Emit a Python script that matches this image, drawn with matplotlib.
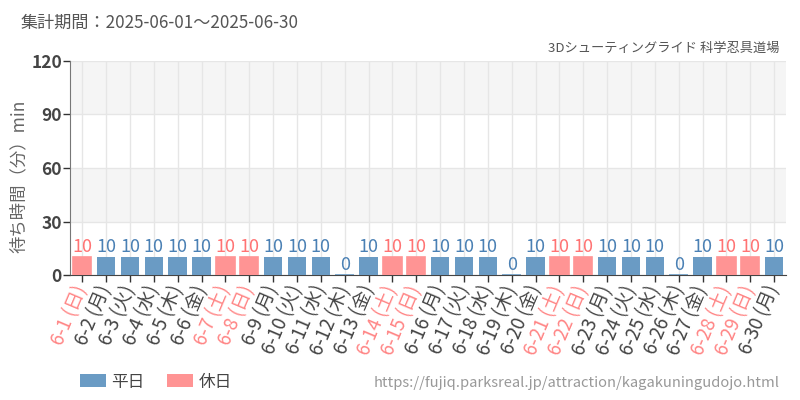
import matplotlib
matplotlib.use("Agg")
import matplotlib.pyplot as plt
from matplotlib.patches import Patch

plt.rcParams['font.family'] = ['Noto Sans CJK JP', 'DejaVu Sans']

dates = ["6-1", "6-2", "6-3", "6-4", "6-5", "6-6", "6-7", "6-8", "6-9", "6-10",
         "6-11", "6-12", "6-13", "6-14", "6-15", "6-16", "6-17", "6-18", "6-19", "6-20",
         "6-21", "6-22", "6-23", "6-24", "6-25", "6-26", "6-27", "6-28", "6-29", "6-30"]
weekdays = ["日", "月", "火", "水", "木", "金", "土", "日", "月", "火",
            "水", "木", "金", "土", "日", "月", "火", "水", "木", "金",
            "土", "日", "月", "火", "水", "木", "金", "土", "日", "月"]
holiday = [1, 0, 0, 0, 0, 0, 1, 1, 0, 0,
           0, 0, 0, 1, 1, 0, 0, 0, 0, 0,
           1, 1, 0, 0, 0, 0, 0, 1, 1, 0]
wait_min = [10, 10, 10, 10, 10, 10, 10, 10, 10, 10,
            10, 0, 10, 10, 10, 10, 10, 10, 0, 10,
            10, 10, 10, 10, 10, 0, 10, 10, 10, 10]
yticks = [0, 30, 60, 90, 120]

title = "集計期間：2025-06-01～2025-06-30"
subtitle = "3Dシューティングライド 科学忍具道場"
url = "https://fujiq.parksreal.jp/attraction/kagakuningudojo.html"
ylabel = "待ち時間（分）min"

BLUE = "#6a9bc4"
RED = "#ff9494"
BLUE_TXT = "#4a80b4"
RED_TXT = "#ff7373"
RED_TICK = "#ff8585"
DARK = "#444444"

fig = plt.figure(figsize=(8, 4), dpi=100)
ax = fig.add_axes([0.0879, 0.312, 0.8946, 0.536])

n = len(dates)
x = list(range(n))

# alternating bands
for i in range(len(yticks) - 1):
    if i % 2 == 1:
        ax.axhspan(yticks[i], yticks[i + 1], color="#f5f5f5", zorder=0, lw=0)

for xi, v, h in zip(x, wait_min, holiday):
    col = RED if h else BLUE
    if h or v == 0:
        ax.bar(xi, v, width=0.77, color=col, edgecolor=col, linewidth=1.2, zorder=3)
    else:
        ax.bar(xi, v, width=0.77, color=col, linewidth=0, zorder=3)
    ax.annotate(str(v), (xi, v), xytext=(0, 1.0), textcoords="offset points",
                ha="center", va="bottom", fontsize=13,
                family=['Liberation Sans Narrow', 'Noto Sans CJK JP', 'DejaVu Sans'],
                color=RED_TXT if h else BLUE_TXT, zorder=4)

ax.set_xlim(-0.5, n - 0.5)
ax.set_ylim(0, 120)
ax.set_yticks(yticks)
ax.set_yticklabels([str(t) for t in yticks], fontsize=12.5, fontweight="bold", color=DARK)
ax.set_xticks(x)
labels = [f"{d} ({w})" for d, w in zip(dates, weekdays)]
ax.set_xticklabels(labels, rotation=67, ha="right", va="center",
                   rotation_mode="anchor", fontsize=13.5)
for lab, h in zip(ax.get_xticklabels(), holiday):
    lab.set_color(RED_TICK if h else DARK)

ax.grid(True, axis="both", color="#e6e6e6", linewidth=1, zorder=1)
ax.set_axisbelow(True)
ax.tick_params(axis="y", length=5, width=1, color="#333333", pad=1)
ax.tick_params(axis="x", length=5, width=1, color="#333333", pad=3)
for s in ["top", "right"]:
    ax.spines[s].set_visible(False)
ax.spines["left"].set_color("#777777")
ax.spines["bottom"].set_color("#444444")

fig.text(0.023, 0.56, ylabel, fontsize=12.5, color="#666666", rotation=90,
         ha="center", va="center")

fig.text(0.026, 0.944, title, fontsize=12.3, color="#555555", ha="left", va="center")
fig.text(0.975, 0.88, subtitle, fontsize=9.5, color="#555555", ha="right", va="center")
fig.text(0.975, 0.043, url, fontsize=10.6, color="#999999", ha="right", va="center")

handles = [Patch(facecolor=BLUE, edgecolor="none", label="平日"),
           Patch(facecolor=RED, edgecolor="none", label="休日")]
fig.legend(handles=handles, loc="center left", bbox_to_anchor=(0.081, 0.045),
           ncol=2, frameon=False, fontsize=12, handlelength=1.56, handleheight=0.84,
           handletextpad=0.3, columnspacing=1.4, labelcolor=DARK)

fig.savefig("out.png", dpi=100)
